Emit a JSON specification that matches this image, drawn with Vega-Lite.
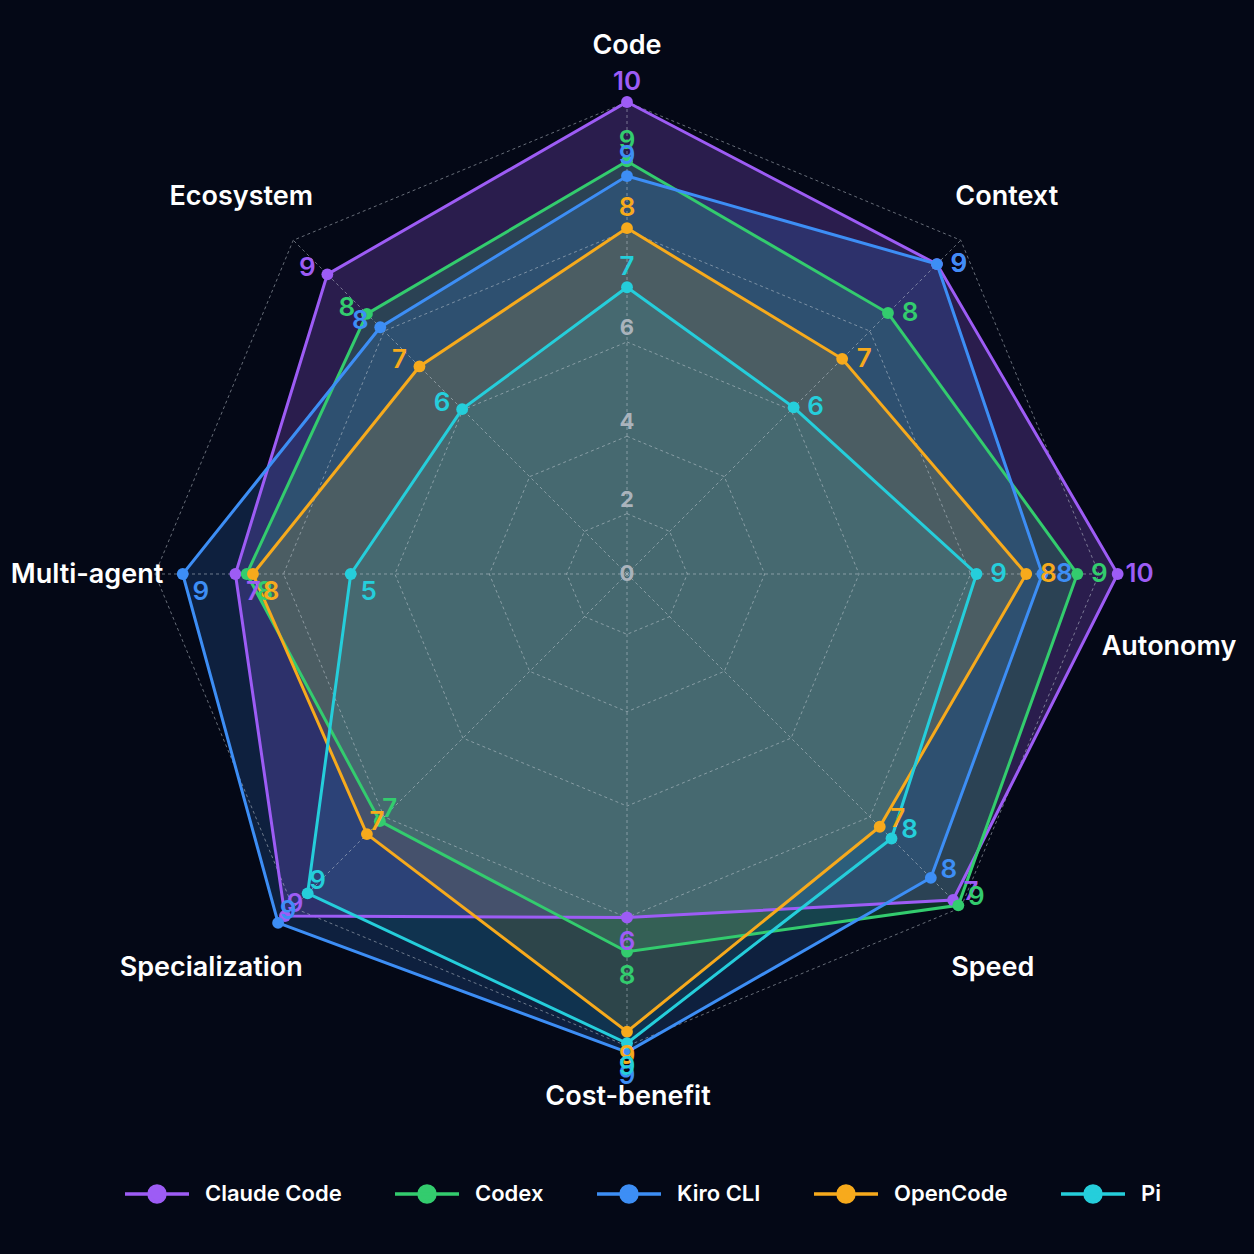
{
  "$schema": "https://vega.github.io/schema/vega-lite/v6.json",
  "width": 1254,
  "height": 1254,
  "autosize": "none",
  "padding": 0,
  "background": "#040816",
  "config": {"view": {"stroke": null}, "font": "Inter"},
  "datasets": {
    "scores": [
      {"tool": "Claude Code", "dim": "Code", "value": 10, "label": 10},
      {"tool": "Claude Code", "dim": "Context", "value": 9.5, "label": 9},
      {"tool": "Claude Code", "dim": "Autonomy", "value": 10.27, "label": 10},
      {"tool": "Claude Code", "dim": "Speed", "value": 9.84, "label": 7},
      {"tool": "Claude Code", "dim": "Cost-benefit", "value": 8.0, "label": 6},
      {"tool": "Claude Code", "dim": "Specialization", "value": 10.17, "label": 9},
      {"tool": "Claude Code", "dim": "Multi-agent", "value": 8.78, "label": 7},
      {"tool": "Claude Code", "dim": "Ecosystem", "value": 9.28, "label": 9},
      {"tool": "Codex", "dim": "Code", "value": 9.11, "label": 9},
      {"tool": "Codex", "dim": "Context", "value": 8.42, "label": 8},
      {"tool": "Codex", "dim": "Autonomy", "value": 9.68, "label": 9},
      {"tool": "Codex", "dim": "Speed", "value": 9.95, "label": 9},
      {"tool": "Codex", "dim": "Cost-benefit", "value": 8.56, "label": 8},
      {"tool": "Codex", "dim": "Specialization", "value": 8.1, "label": 7},
      {"tool": "Codex", "dim": "Multi-agent", "value": 8.6, "label": 8},
      {"tool": "Codex", "dim": "Ecosystem", "value": 8.4, "label": 8},
      {"tool": "Kiro CLI", "dim": "Code", "value": 8.88, "label": 9},
      {"tool": "Kiro CLI", "dim": "Context", "value": 9.5, "label": 9},
      {"tool": "Kiro CLI", "dim": "Autonomy", "value": 9.15, "label": 8},
      {"tool": "Kiro CLI", "dim": "Speed", "value": 9.37, "label": 8},
      {"tool": "Kiro CLI", "dim": "Cost-benefit", "value": 10.09, "label": 9},
      {"tool": "Kiro CLI", "dim": "Specialization", "value": 10.31, "label": 9},
      {"tool": "Kiro CLI", "dim": "Multi-agent", "value": 9.59, "label": 9},
      {"tool": "Kiro CLI", "dim": "Ecosystem", "value": 8.09, "label": 8},
      {"tool": "OpenCode", "dim": "Code", "value": 8.04, "label": 8},
      {"tool": "OpenCode", "dim": "Context", "value": 7.33, "label": 7},
      {"tool": "OpenCode", "dim": "Autonomy", "value": 8.9, "label": 8},
      {"tool": "OpenCode", "dim": "Speed", "value": 8.23, "label": 7},
      {"tool": "OpenCode", "dim": "Cost-benefit", "value": 9.79, "label": 9},
      {"tool": "OpenCode", "dim": "Specialization", "value": 8.4, "label": 7},
      {"tool": "OpenCode", "dim": "Multi-agent", "value": 8.5, "label": 8},
      {"tool": "OpenCode", "dim": "Ecosystem", "value": 7.14, "label": 7},
      {"tool": "Pi", "dim": "Code", "value": 7.02, "label": 7},
      {"tool": "Pi", "dim": "Context", "value": 6.07, "label": 6},
      {"tool": "Pi", "dim": "Autonomy", "value": 8.1, "label": 9},
      {"tool": "Pi", "dim": "Speed", "value": 8.5, "label": 8},
      {"tool": "Pi", "dim": "Cost-benefit", "value": 9.96, "label": 9},
      {"tool": "Pi", "dim": "Specialization", "value": 9.7, "label": 9},
      {"tool": "Pi", "dim": "Multi-agent", "value": 6.83, "label": 5},
      {"tool": "Pi", "dim": "Ecosystem", "value": 6.02, "label": 6}
    ],
    "axes": [
      {"dim": "Code"}, {"dim": "Context"}, {"dim": "Autonomy"}, {"dim": "Speed"},
      {"dim": "Cost-benefit"}, {"dim": "Specialization"}, {"dim": "Multi-agent"}, {"dim": "Ecosystem"}
    ],
    "ticks": [{"tick": 0}, {"tick": 2}, {"tick": 4}, {"tick": 6}]
  },
  "layer": [
    {
      "data": {"name": "scores"},
      "transform": [
        {"calculate": "indexof(['Code','Context','Autonomy','Speed','Cost-benefit','Specialization','Multi-agent','Ecosystem'], datum.dim)", "as": "i"},
        {"calculate": "datum.value*(25.9+2.13*datum.value)/47.2", "as": "r"},
        {"calculate": "datum.r*sin(datum.i*PI/4)", "as": "x"},
        {"calculate": "datum.r*cos(datum.i*PI/4)", "as": "y"}
      ],
      "mark": {"type": "line", "interpolate": "linear-closed", "strokeWidth": 0, "strokeOpacity": 0},
      "encoding": {
        "x": {"field": "x", "type": "quantitative", "scale": {"domain": [-13.284, 13.284], "nice": false, "zero": false}, "axis": null},
        "y": {"field": "y", "type": "quantitative", "scale": {"domain": [-14.407, 12.161], "nice": false, "zero": false}, "axis": null},
        "order": {"field": "i", "type": "quantitative"},
        "detail": {"field": "tool"},
        "fillOpacity": {"field": "tool", "type": "nominal", "scale": {"domain": ["Claude Code", "Codex", "Kiro CLI", "OpenCode", "Pi"], "range": [0.25, 0.11, 0.2, 0.12, 0.11]}, "legend": null},
        "fill": {
          "field": "tool", "type": "nominal",
          "scale": {"domain": ["Claude Code", "Codex", "Kiro CLI", "OpenCode", "Pi"], "range": ["#9d5cf5", "#33cc6e", "#3d8ef5", "#f7aa1c", "#25cedb"]},
          "legend": {
            "orient": "none", "legendX": 123, "legendY": 1160, "direction": "horizontal", "title": null,
            "symbolType": "M-1,0H1M0.25,0A0.25,0.25,0,1,1,-0.25,0A0.25,0.25,0,1,1,0.25,0Z",
            "symbolSize": 4096, "symbolStrokeWidth": 3.5, "symbolOpacity": 1,
            "labelFontSize": 22, "labelFont": "Inter", "labelFontWeight": 600, "labelColor": "#ffffff",
            "labelOffset": 14, "columnPadding": 46,
            "encode": {"symbols": {"update": {"stroke": {"scale": "fill", "field": "value"}, "fill": {"scale": "fill", "field": "value"}, "fillOpacity": {"value": 1}, "strokeOpacity": {"value": 1}, "opacity": {"value": 1}}}}
          }
        }
      }
    },
    {
      "data": {"name": "axes"},
      "transform": [
        {"calculate": "indexof(['Code','Context','Autonomy','Speed','Cost-benefit','Specialization','Multi-agent','Ecosystem'], datum.dim)", "as": "i"},
        {"calculate": "[2,4,6,8,10]", "as": "level"},
        {"flatten": ["level"]},
        {"calculate": "datum.level*(25.9+2.13*datum.level)/47.2", "as": "r"},
        {"calculate": "datum.r*sin(datum.i*PI/4)", "as": "x"},
        {"calculate": "datum.r*cos(datum.i*PI/4)", "as": "y"}
      ],
      "mark": {"type": "line", "interpolate": "linear-closed", "stroke": "#c9d1da", "strokeOpacity": 0.5, "strokeWidth": 1, "strokeDash": [3, 3]},
      "encoding": {
        "x": {"field": "x", "type": "quantitative"},
        "y": {"field": "y", "type": "quantitative"},
        "order": {"field": "i", "type": "quantitative"},
        "detail": {"field": "level"}
      }
    },
    {
      "data": {"name": "axes"},
      "transform": [
        {"calculate": "indexof(['Code','Context','Autonomy','Speed','Cost-benefit','Specialization','Multi-agent','Ecosystem'], datum.dim)", "as": "i"},
        {"calculate": "10*sin(datum.i*PI/4)", "as": "x"},
        {"calculate": "10*cos(datum.i*PI/4)", "as": "y"},
        {"calculate": "0", "as": "x0"},
        {"calculate": "0", "as": "y0"}
      ],
      "mark": {"type": "rule", "stroke": "#c9d1da", "strokeOpacity": 0.5, "strokeWidth": 1, "strokeDash": [3, 3]},
      "encoding": {
        "x": {"field": "x0", "type": "quantitative"},
        "y": {"field": "y0", "type": "quantitative"},
        "x2": {"field": "x"},
        "y2": {"field": "y"}
      }
    },
    {
      "data": {"name": "scores"},
      "transform": [
        {"calculate": "indexof(['Code','Context','Autonomy','Speed','Cost-benefit','Specialization','Multi-agent','Ecosystem'], datum.dim)", "as": "i"},
        {"calculate": "datum.value*(25.9+2.13*datum.value)/47.2", "as": "r"},
        {"calculate": "datum.r*sin(datum.i*PI/4)", "as": "x"},
        {"calculate": "datum.r*cos(datum.i*PI/4)", "as": "y"}
      ],
      "mark": {"type": "line", "interpolate": "linear-closed", "strokeWidth": 3},
      "encoding": {
        "x": {"field": "x", "type": "quantitative"},
        "y": {"field": "y", "type": "quantitative"},
        "order": {"field": "i", "type": "quantitative"},
        "stroke": {
          "field": "tool", "type": "nominal",
          "scale": {"domain": ["Claude Code", "Codex", "Kiro CLI", "OpenCode", "Pi"], "range": ["#9d5cf5", "#33cc6e", "#3d8ef5", "#f7aa1c", "#25cedb"]},
          "legend": null
        }
      }
    },
    {
      "data": {"name": "scores"},
      "transform": [
        {"calculate": "indexof(['Code','Context','Autonomy','Speed','Cost-benefit','Specialization','Multi-agent','Ecosystem'], datum.dim)", "as": "i"},
        {"calculate": "datum.value*(25.9+2.13*datum.value)/47.2", "as": "r"},
        {"calculate": "datum.r*sin(datum.i*PI/4)", "as": "x"},
        {"calculate": "datum.r*cos(datum.i*PI/4)", "as": "y"}
      ],
      "mark": {"type": "point", "filled": true, "size": 140, "opacity": 1},
      "encoding": {
        "x": {"field": "x", "type": "quantitative"},
        "y": {"field": "y", "type": "quantitative"},
        "fill": {"field": "tool", "type": "nominal", "legend": null}
      }
    },
    {
      "data": {"name": "scores"},
      "transform": [
        {"calculate": "indexof(['Code','Context','Autonomy','Speed','Cost-benefit','Specialization','Multi-agent','Ecosystem'], datum.dim)", "as": "i"},
        {"calculate": "datum.value*(25.9+2.13*datum.value)/47.2", "as": "r"},
        {"calculate": "datum.r*sin(datum.i*PI/4) + [0,22,22,18,0,10,18,-20][datum.i]/47.2", "as": "lx"},
        {"calculate": "datum.r*cos(datum.i*PI/4) - [-20,0,0,-8,24,-12,18,-6][datum.i]/47.2", "as": "ly"}
      ],
      "mark": {"type": "text", "fontSize": 26, "fontWeight": 600, "font": "Inter", "align": "center", "baseline": "middle"},
      "encoding": {
        "x": {"field": "lx", "type": "quantitative"},
        "y": {"field": "ly", "type": "quantitative"},
        "text": {"field": "label", "type": "nominal"},
        "fill": {"field": "tool", "type": "nominal", "legend": null}
      }
    },
    {
      "data": {"name": "ticks"},
      "transform": [
        {"calculate": "0", "as": "x"},
        {"calculate": "datum.tick*(25.9+2.13*datum.tick)/47.2 + (datum.tick > 0 ? 0.3 : 0)", "as": "y"}
      ],
      "mark": {"type": "text", "fontSize": 22, "fontWeight": 700, "font": "Inter", "fill": "#aab3bc", "align": "center", "baseline": "middle"},
      "encoding": {
        "x": {"field": "x", "type": "quantitative"},
        "y": {"field": "y", "type": "quantitative"},
        "text": {"field": "tick", "type": "nominal"}
      }
    },
    {
      "data": {"name": "axes"},
      "transform": [
        {"calculate": "indexof(['Code','Context','Autonomy','Speed','Cost-benefit','Specialization','Multi-agent','Ecosystem'], datum.dim)", "as": "i"},
        {"calculate": "10*sin(datum.i*PI/4) + [0,46,70,32,1,-82,-68,-52][datum.i]/47.2", "as": "x"},
        {"calculate": "10*cos(datum.i*PI/4) - [-56,-43,73,60,51,60,1,-43][datum.i]/47.2", "as": "y"}
      ],
      "mark": {"type": "text", "fontSize": 27, "fontWeight": 600, "font": "Inter", "fill": "#ffffff", "align": "center", "baseline": "middle"},
      "encoding": {
        "x": {"field": "x", "type": "quantitative"},
        "y": {"field": "y", "type": "quantitative"},
        "text": {"field": "dim", "type": "nominal"}
      }
    }
  ]
}
